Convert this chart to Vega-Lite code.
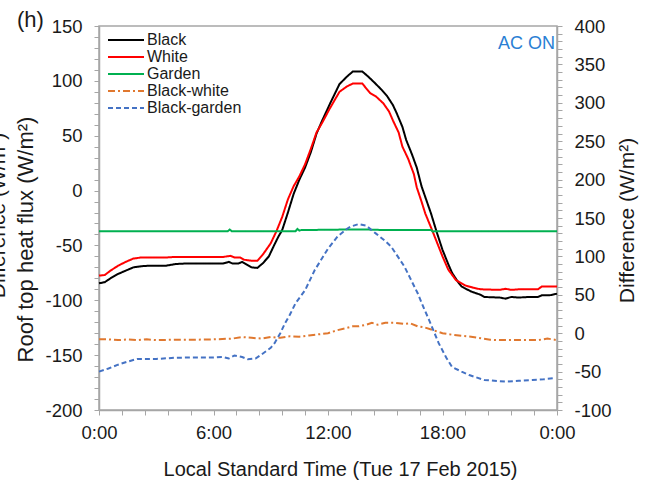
{
  "$schema": "https://vega.github.io/schema/vega-lite/v6.json",
  "width": 458,
  "height": 384,
  "autosize": {"type": "none"},
  "padding": {"left": 99, "top": 26, "right": 91, "bottom": 74},
  "config": {
    "font": "Liberation Sans",
    "view": {"stroke": "#a6a6a6", "strokeWidth": 1.5},
    "axis": {"grid": false, "domainColor": "#a6a6a6", "domainWidth": 1.5, "tickColor": "#a6a6a6", "tickSize": 5, "labelColor": "#1a1a1a", "titleColor": "#1a1a1a", "labelFont": "Liberation Sans", "titleFont": "Liberation Sans", "labelFontSize": 18.5, "titleFontWeight": "normal", "labelOverlap": false},
    "axisX": {"labelOverlap": false}
  },
  "title": {"text": "(h)", "anchor": "start", "frame": "group", "fontSize": 22, "fontWeight": "normal", "color": "#1a1a1a", "dx": -82, "dy": 27, "offset": -5, "baseline": "alphabetic"},
  "datasets": {
    "main": [
      {"t": 0, "series": "Black", "v": -84.5}, {"t": 0.3, "series": "Black", "v": -83.5}, {"t": 0.6, "series": "Black", "v": -80}, {"t": 1, "series": "Black", "v": -76}, {"t": 1.4, "series": "Black", "v": -73}, {"t": 1.8, "series": "Black", "v": -70}, {"t": 2.2, "series": "Black", "v": -69}, {"t": 2.6, "series": "Black", "v": -68.5}, {"t": 3, "series": "Black", "v": -68.5}, {"t": 3.5, "series": "Black", "v": -68.5}, {"t": 4, "series": "Black", "v": -67}, {"t": 4.5, "series": "Black", "v": -66.5}, {"t": 5, "series": "Black", "v": -66.5}, {"t": 5.5, "series": "Black", "v": -66.5}, {"t": 6, "series": "Black", "v": -66.5}, {"t": 6.5, "series": "Black", "v": -66.5}, {"t": 6.8, "series": "Black", "v": -65}, {"t": 7, "series": "Black", "v": -66.5}, {"t": 7.3, "series": "Black", "v": -66.5}, {"t": 7.5, "series": "Black", "v": -65}, {"t": 7.7, "series": "Black", "v": -67}, {"t": 8, "series": "Black", "v": -70}, {"t": 8.3, "series": "Black", "v": -70.5}, {"t": 8.6, "series": "Black", "v": -66}, {"t": 8.9, "series": "Black", "v": -60}, {"t": 9.2, "series": "Black", "v": -49}, {"t": 9.4, "series": "Black", "v": -42}, {"t": 9.6, "series": "Black", "v": -36}, {"t": 9.9, "series": "Black", "v": -20}, {"t": 10.2, "series": "Black", "v": -3}, {"t": 10.5, "series": "Black", "v": 10}, {"t": 10.8, "series": "Black", "v": 21}, {"t": 11.1, "series": "Black", "v": 35}, {"t": 11.4, "series": "Black", "v": 52}, {"t": 11.7, "series": "Black", "v": 64}, {"t": 12.1, "series": "Black", "v": 79}, {"t": 12.6, "series": "Black", "v": 97}, {"t": 13, "series": "Black", "v": 104}, {"t": 13.3, "series": "Black", "v": 108.5}, {"t": 13.8, "series": "Black", "v": 108.5}, {"t": 14.1, "series": "Black", "v": 104}, {"t": 14.4, "series": "Black", "v": 99}, {"t": 14.8, "series": "Black", "v": 92}, {"t": 15.1, "series": "Black", "v": 86}, {"t": 15.4, "series": "Black", "v": 78}, {"t": 15.6, "series": "Black", "v": 70.5}, {"t": 15.9, "series": "Black", "v": 58}, {"t": 16.1, "series": "Black", "v": 46}, {"t": 16.4, "series": "Black", "v": 33}, {"t": 16.65, "series": "Black", "v": 21}, {"t": 16.9, "series": "Black", "v": 4}, {"t": 17.1, "series": "Black", "v": -6}, {"t": 17.4, "series": "Black", "v": -21}, {"t": 17.7, "series": "Black", "v": -38}, {"t": 18, "series": "Black", "v": -54}, {"t": 18.3, "series": "Black", "v": -67}, {"t": 18.5, "series": "Black", "v": -75}, {"t": 18.8, "series": "Black", "v": -83}, {"t": 19, "series": "Black", "v": -87.5}, {"t": 19.5, "series": "Black", "v": -92}, {"t": 20, "series": "Black", "v": -95}, {"t": 20.2, "series": "Black", "v": -97}, {"t": 21, "series": "Black", "v": -97.5}, {"t": 21.3, "series": "Black", "v": -98.5}, {"t": 21.6, "series": "Black", "v": -97}, {"t": 22, "series": "Black", "v": -97.5}, {"t": 22.5, "series": "Black", "v": -97}, {"t": 23, "series": "Black", "v": -97}, {"t": 23.2, "series": "Black", "v": -95.5}, {"t": 23.6, "series": "Black", "v": -95.5}, {"t": 24, "series": "Black", "v": -94},
      {"t": 0, "series": "White", "v": -77.5}, {"t": 0.3, "series": "White", "v": -77}, {"t": 0.6, "series": "White", "v": -73}, {"t": 1, "series": "White", "v": -68.5}, {"t": 1.4, "series": "White", "v": -65}, {"t": 1.8, "series": "White", "v": -62}, {"t": 2.2, "series": "White", "v": -61}, {"t": 2.6, "series": "White", "v": -61}, {"t": 3, "series": "White", "v": -61}, {"t": 3.5, "series": "White", "v": -61}, {"t": 4, "series": "White", "v": -60.5}, {"t": 4.5, "series": "White", "v": -60.5}, {"t": 5, "series": "White", "v": -60.5}, {"t": 5.5, "series": "White", "v": -60.5}, {"t": 6, "series": "White", "v": -60.5}, {"t": 6.5, "series": "White", "v": -60.5}, {"t": 6.9, "series": "White", "v": -59.5}, {"t": 7.1, "series": "White", "v": -61}, {"t": 7.4, "series": "White", "v": -61}, {"t": 7.6, "series": "White", "v": -63}, {"t": 8, "series": "White", "v": -64}, {"t": 8.3, "series": "White", "v": -64}, {"t": 8.6, "series": "White", "v": -58}, {"t": 9, "series": "White", "v": -48}, {"t": 9.3, "series": "White", "v": -37}, {"t": 9.6, "series": "White", "v": -24}, {"t": 9.9, "series": "White", "v": -8}, {"t": 10.2, "series": "White", "v": 4}, {"t": 10.5, "series": "White", "v": 13}, {"t": 10.8, "series": "White", "v": 24}, {"t": 11.1, "series": "White", "v": 38}, {"t": 11.4, "series": "White", "v": 53}, {"t": 11.7, "series": "White", "v": 62}, {"t": 12.1, "series": "White", "v": 75}, {"t": 12.6, "series": "White", "v": 90}, {"t": 13, "series": "White", "v": 95}, {"t": 13.3, "series": "White", "v": 97.5}, {"t": 13.8, "series": "White", "v": 97.5}, {"t": 14.2, "series": "White", "v": 89}, {"t": 14.5, "series": "White", "v": 86}, {"t": 14.9, "series": "White", "v": 79.5}, {"t": 15.2, "series": "White", "v": 72}, {"t": 15.4, "series": "White", "v": 64}, {"t": 15.7, "series": "White", "v": 53}, {"t": 15.9, "series": "White", "v": 40}, {"t": 16.2, "series": "White", "v": 29}, {"t": 16.5, "series": "White", "v": 15}, {"t": 16.65, "series": "White", "v": 3}, {"t": 16.9, "series": "White", "v": -10}, {"t": 17.1, "series": "White", "v": -21}, {"t": 17.5, "series": "White", "v": -38}, {"t": 18, "series": "White", "v": -60}, {"t": 18.3, "series": "White", "v": -72}, {"t": 18.7, "series": "White", "v": -81.5}, {"t": 19, "series": "White", "v": -84.5}, {"t": 19.2, "series": "White", "v": -86.5}, {"t": 19.6, "series": "White", "v": -88.5}, {"t": 20, "series": "White", "v": -90}, {"t": 21, "series": "White", "v": -90.5}, {"t": 21.3, "series": "White", "v": -89.5}, {"t": 21.6, "series": "White", "v": -90.5}, {"t": 22, "series": "White", "v": -90}, {"t": 23, "series": "White", "v": -90}, {"t": 23.2, "series": "White", "v": -87.5}, {"t": 24, "series": "White", "v": -87.5},
      {"t": 0, "series": "Garden", "v": -37}, {"t": 6.75, "series": "Garden", "v": -37}, {"t": 6.85, "series": "Garden", "v": -35.5}, {"t": 6.95, "series": "Garden", "v": -37}, {"t": 10.3, "series": "Garden", "v": -37}, {"t": 10.4, "series": "Garden", "v": -35}, {"t": 10.5, "series": "Garden", "v": -36.5}, {"t": 10.6, "series": "Garden", "v": -36}, {"t": 13, "series": "Garden", "v": -35.5}, {"t": 14, "series": "Garden", "v": -35.5}, {"t": 15, "series": "Garden", "v": -36}, {"t": 17.4, "series": "Garden", "v": -36}, {"t": 17.5, "series": "Garden", "v": -37.5}, {"t": 17.6, "series": "Garden", "v": -37}, {"t": 24, "series": "Garden", "v": -37}
    ],
    "diff": [
      {"t": 0, "series": "Black-white", "v": -8}, {"t": 0.5, "series": "Black-white", "v": -8}, {"t": 1, "series": "Black-white", "v": -9}, {"t": 1.5, "series": "Black-white", "v": -8}, {"t": 2, "series": "Black-white", "v": -9}, {"t": 2.5, "series": "Black-white", "v": -8}, {"t": 3, "series": "Black-white", "v": -9}, {"t": 4, "series": "Black-white", "v": -8.5}, {"t": 5, "series": "Black-white", "v": -8.5}, {"t": 6, "series": "Black-white", "v": -8}, {"t": 7, "series": "Black-white", "v": -7}, {"t": 7.5, "series": "Black-white", "v": -5}, {"t": 8, "series": "Black-white", "v": -6}, {"t": 8.5, "series": "Black-white", "v": -7}, {"t": 9, "series": "Black-white", "v": -5}, {"t": 9.5, "series": "Black-white", "v": -6}, {"t": 10, "series": "Black-white", "v": -4}, {"t": 10.5, "series": "Black-white", "v": -4.5}, {"t": 11, "series": "Black-white", "v": -3}, {"t": 11.5, "series": "Black-white", "v": -1.5}, {"t": 12, "series": "Black-white", "v": 0}, {"t": 12.5, "series": "Black-white", "v": 4}, {"t": 13, "series": "Black-white", "v": 7}, {"t": 13.3, "series": "Black-white", "v": 9}, {"t": 13.6, "series": "Black-white", "v": 9}, {"t": 14, "series": "Black-white", "v": 11}, {"t": 14.3, "series": "Black-white", "v": 13.5}, {"t": 14.6, "series": "Black-white", "v": 11}, {"t": 15, "series": "Black-white", "v": 13.5}, {"t": 15.5, "series": "Black-white", "v": 13.5}, {"t": 16, "series": "Black-white", "v": 12}, {"t": 16.3, "series": "Black-white", "v": 13}, {"t": 16.7, "series": "Black-white", "v": 9}, {"t": 17, "series": "Black-white", "v": 8}, {"t": 17.5, "series": "Black-white", "v": 4}, {"t": 18, "series": "Black-white", "v": 0}, {"t": 18.5, "series": "Black-white", "v": -2}, {"t": 19, "series": "Black-white", "v": -3.5}, {"t": 19.5, "series": "Black-white", "v": -4.5}, {"t": 20, "series": "Black-white", "v": -6.5}, {"t": 20.5, "series": "Black-white", "v": -8.5}, {"t": 21, "series": "Black-white", "v": -9}, {"t": 22, "series": "Black-white", "v": -9}, {"t": 23, "series": "Black-white", "v": -9}, {"t": 23.5, "series": "Black-white", "v": -7}, {"t": 24, "series": "Black-white", "v": -9},
      {"t": 0, "series": "Black-garden", "v": -50}, {"t": 0.5, "series": "Black-garden", "v": -46}, {"t": 1, "series": "Black-garden", "v": -41}, {"t": 1.5, "series": "Black-garden", "v": -37}, {"t": 2, "series": "Black-garden", "v": -33.5}, {"t": 3, "series": "Black-garden", "v": -33.5}, {"t": 4, "series": "Black-garden", "v": -32}, {"t": 5, "series": "Black-garden", "v": -31.5}, {"t": 6, "series": "Black-garden", "v": -31.5}, {"t": 6.5, "series": "Black-garden", "v": -31}, {"t": 6.8, "series": "Black-garden", "v": -33}, {"t": 7.1, "series": "Black-garden", "v": -29}, {"t": 7.5, "series": "Black-garden", "v": -31}, {"t": 7.8, "series": "Black-garden", "v": -34}, {"t": 8.2, "series": "Black-garden", "v": -33}, {"t": 8.5, "series": "Black-garden", "v": -28}, {"t": 9, "series": "Black-garden", "v": -19}, {"t": 9.2, "series": "Black-garden", "v": -13}, {"t": 9.5, "series": "Black-garden", "v": 0}, {"t": 9.75, "series": "Black-garden", "v": 13}, {"t": 10, "series": "Black-garden", "v": 24}, {"t": 10.3, "series": "Black-garden", "v": 39}, {"t": 10.8, "series": "Black-garden", "v": 56}, {"t": 11.3, "series": "Black-garden", "v": 82}, {"t": 11.85, "series": "Black-garden", "v": 104}, {"t": 12, "series": "Black-garden", "v": 110}, {"t": 12.5, "series": "Black-garden", "v": 126}, {"t": 13, "series": "Black-garden", "v": 136}, {"t": 13.2, "series": "Black-garden", "v": 139}, {"t": 13.6, "series": "Black-garden", "v": 142}, {"t": 14, "series": "Black-garden", "v": 140}, {"t": 14.5, "series": "Black-garden", "v": 130}, {"t": 15, "series": "Black-garden", "v": 120}, {"t": 15.3, "series": "Black-garden", "v": 113}, {"t": 15.6, "series": "Black-garden", "v": 102}, {"t": 16, "series": "Black-garden", "v": 87}, {"t": 16.3, "series": "Black-garden", "v": 72}, {"t": 16.7, "series": "Black-garden", "v": 52}, {"t": 17, "series": "Black-garden", "v": 34}, {"t": 17.3, "series": "Black-garden", "v": 17}, {"t": 17.8, "series": "Black-garden", "v": -13}, {"t": 18.2, "series": "Black-garden", "v": -32}, {"t": 18.5, "series": "Black-garden", "v": -44}, {"t": 19, "series": "Black-garden", "v": -50}, {"t": 19.4, "series": "Black-garden", "v": -54.5}, {"t": 20.2, "series": "Black-garden", "v": -61}, {"t": 21.3, "series": "Black-garden", "v": -63}, {"t": 22, "series": "Black-garden", "v": -62}, {"t": 22.7, "series": "Black-garden", "v": -61}, {"t": 23.3, "series": "Black-garden", "v": -60}, {"t": 23.9, "series": "Black-garden", "v": -58.5}
    ]
  },
  "layer": [
    {
      "data": {"name": "main"},
      "mark": {"type": "line", "strokeWidth": 2},
      "encoding": {
        "x": {"field": "t", "type": "quantitative", "scale": {"domain": [0, 24], "nice": false, "zero": false},
          "axis": {"values": [0, 1.2, 2.4, 3.6, 4.8, 6, 7.2, 8.4, 9.6, 10.8, 12, 13.2, 14.4, 15.6, 16.8, 18, 19.2, 20.4, 21.6, 22.8, 24],
            "labelExpr": "(datum.value == 0 || datum.value == 24) ? '0:00' : (datum.value == 6 ? '6:00' : (datum.value == 12 ? '12:00' : (datum.value == 18 ? '18:00' : '')))", "labelPadding": 8, "labelFlush": false, "labelOverlap": false, "labelBound": false,
            "title": "Local Standard Time (Tue 17 Feb 2015)", "titleFontSize": 20, "titleX": 241, "titleY": 65, "titleBaseline": "alphabetic", "titleAnchor": null}},
        "y": {"field": "v", "type": "quantitative", "scale": {"domain": [-200, 150], "nice": false, "zero": false},
          "axis": {"values": [-200, -190, -180, -170, -160, -150, -140, -130, -120, -110, -100, -90, -80, -70, -60, -50, -40, -30, -20, -10, 0, 10, 20, 30, 40, 50, 60, 70, 80, 90, 100, 110, 120, 130, 140, 150],
            "labelExpr": "datum.value % 50 == 0 ? '' + datum.value : ''", "labelPadding": 12, "labelFlush": false, "labelOverlap": false,
            "title": "Roof top heat  flux (W/m²)", "titleFontSize": 22, "titleX": -74, "titleY": 213, "titleBaseline": "middle", "titleAngle": 270}},
        "color": {"field": "series", "type": "nominal",
          "scale": {"domain": ["Black", "White", "Garden", "Black-white", "Black-garden"], "range": ["#000000", "#ff0000", "#00b050", "#e0782f", "#4472c4"]},
          "legend": {"title": null, "orient": "none", "legendX": 8, "legendY": 5.5, "symbolType": "stroke", "symbolSize": 1296, "symbolStrokeWidth": 2, "labelFontSize": 16, "labelColor": "#1a1a1a", "labelOffset": 2, "rowPadding": 0, "clipHeight": 17, "padding": 0}},
        "strokeDash": {"field": "series", "type": "nominal",
          "scale": {"domain": ["Black", "White", "Garden", "Black-white", "Black-garden"], "range": [[1, 0], [1, 0], [1, 0], [7, 3, 2, 3], [5, 3]]},
          "legend": {"title": null, "orient": "none", "legendX": 8, "legendY": 5.5, "symbolType": "stroke", "symbolSize": 1296, "symbolStrokeWidth": 2, "labelFontSize": 16, "labelColor": "#1a1a1a", "labelOffset": 2, "rowPadding": 0, "clipHeight": 17, "padding": 0}}
      }
    },
    {
      "data": {"name": "diff"},
      "mark": {"type": "line", "strokeWidth": 2},
      "encoding": {
        "x": {"field": "t", "type": "quantitative",
          "axis": {"values": [0, 1.2, 2.4, 3.6, 4.8, 6, 7.2, 8.4, 9.6, 10.8, 12, 13.2, 14.4, 15.6, 16.8, 18, 19.2, 20.4, 21.6, 22.8, 24],
            "labelExpr": "(datum.value == 0 || datum.value == 24) ? '0:00' : (datum.value == 6 ? '6:00' : (datum.value == 12 ? '12:00' : (datum.value == 18 ? '18:00' : '')))", "labelPadding": 8, "labelFlush": false, "labelOverlap": false, "labelBound": false,
            "title": "Local Standard Time (Tue 17 Feb 2015)", "titleFontSize": 20, "titleX": 241, "titleY": 65, "titleBaseline": "alphabetic", "titleAnchor": null}},
        "y": {"field": "v", "type": "quantitative", "scale": {"domain": [-100, 400], "nice": false, "zero": false},
          "axis": {"orient": "right", "values": [-100, -90, -80, -70, -60, -50, -40, -30, -20, -10, 0, 10, 20, 30, 40, 50, 60, 70, 80, 90, 100, 110, 120, 130, 140, 150, 160, 170, 180, 190, 200, 210, 220, 230, 240, 250, 260, 270, 280, 290, 300, 310, 320, 330, 340, 350, 360, 370, 380, 390, 400],
            "labelExpr": "datum.value % 50 == 0 ? '' + datum.value : ''", "labelPadding": 12, "labelFlush": false, "labelOverlap": false,
            "title": "Difference (W/m²)", "titleFontSize": 21, "titleX": 70, "titleY": 194, "titleBaseline": "middle", "titleAngle": 270}},
        "color": {"field": "series", "type": "nominal"},
        "strokeDash": {"field": "series", "type": "nominal"}
      }
    },
    {
      "data": {"values": [{"label": "AC ON"}]},
      "mark": {"type": "text", "align": "right", "baseline": "alphabetic", "fontSize": 18, "color": "#2a7fd4", "font": "Liberation Sans"},
      "encoding": {
        "text": {"field": "label"},
        "x": {"datum": 23.9, "type": "quantitative",
          "axis": {"values": [0, 1.2, 2.4, 3.6, 4.8, 6, 7.2, 8.4, 9.6, 10.8, 12, 13.2, 14.4, 15.6, 16.8, 18, 19.2, 20.4, 21.6, 22.8, 24],
            "labelExpr": "(datum.value == 0 || datum.value == 24) ? '0:00' : (datum.value == 6 ? '6:00' : (datum.value == 12 ? '12:00' : (datum.value == 18 ? '18:00' : '')))", "labelPadding": 8, "labelFlush": false, "labelOverlap": false, "labelBound": false,
            "title": "Local Standard Time (Tue 17 Feb 2015)", "titleFontSize": 20, "titleX": 241, "titleY": 65, "titleBaseline": "alphabetic", "titleAnchor": null}},
        "y": {"datum": 129, "scale": {"domain": [-200, 150], "nice": false, "zero": false},
          "axis": {"orient": "left", "domain": false, "ticks": false, "labels": false, "grid": false,
            "title": "Difference (W/m²)", "titleFontSize": 21, "titleX": -101, "titleY": 189, "titleBaseline": "middle", "titleAngle": 270}}
      }
    }
  ],
  "resolve": {"scale": {"y": "independent"}}
}
